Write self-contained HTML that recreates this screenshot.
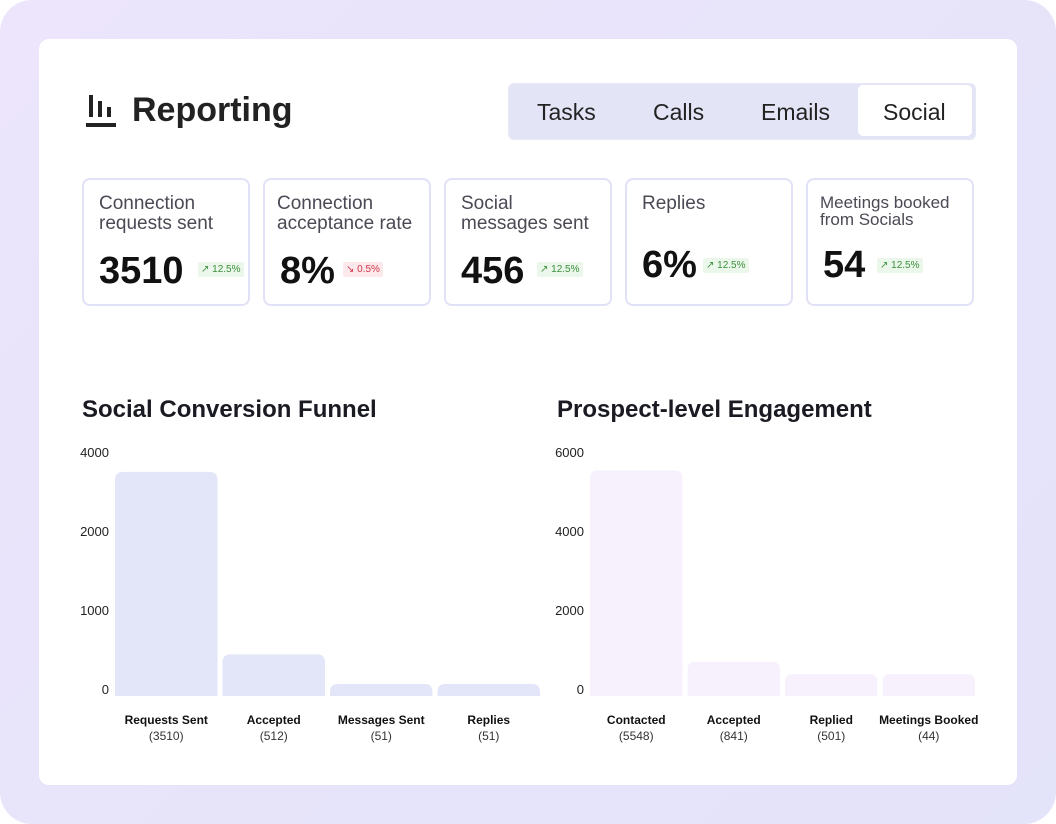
<!DOCTYPE html>
<html><head><meta charset="utf-8"><style>
body{margin:0;width:1056px;height:824px;background:#fff;font-family:"Liberation Sans",sans-serif;overflow:hidden}
#outer{position:absolute;left:0;top:0;width:1056px;height:824px;border-radius:32px;background:linear-gradient(135deg,#ece5fb,#e3e3fa)}
#card{position:absolute;left:39px;top:39px;width:978px;height:746px;background:#fff;border-radius:10px}
.abs{position:absolute}
.kpi{position:absolute;top:178px;width:164px;height:124px;border:2px solid #e1e2f7;border-radius:8px;background:#fff}
.kt{position:absolute;left:15px;top:14px;font-size:19px;line-height:20px;color:#4a4a55}
.kv{position:absolute;left:15px;font-size:38px;font-weight:bold;color:#111}
.badge{position:absolute;font-size:10px;padding:2px 3px;border-radius:2px}
.up{background:#eaf7ea;color:#3d8f3d}.dn{background:#fde9ec;color:#d0364a}
.tab{position:absolute;top:99px;font-size:23px;color:#222}
</style></head><body>
<div id="outer"></div>
<div id="card"></div>
<svg class="abs" style="left:86px;top:95px" width="32" height="32"><rect x="3" y="0" width="4" height="22" fill="#222"/><rect x="12" y="6" width="4" height="16" fill="#222"/><rect x="21" y="12" width="4" height="10" fill="#222"/><rect x="0" y="28" width="30" height="4" fill="#222"/></svg>
<div class="abs" style="left:132px;top:91px;font-size:34px;font-weight:bold;color:#222">Reporting</div>
<div class="abs" style="left:508px;top:83px;width:466px;height:55px;background:#e3e5f7;border-radius:6px;border:1px solid #e8e8f8"></div>
<div class="abs" style="left:858px;top:85px;width:114px;height:51px;background:#fff;border-radius:5px"></div>
<div class="tab" style="left:537px">Tasks</div>
<div class="tab" style="left:653px">Calls</div>
<div class="tab" style="left:761px">Emails</div>
<div class="tab" style="left:883px">Social</div>

<div class="kpi" style="left:82px"><div class="kt">Connection<br>requests sent</div><div class="kv" style="top:70px">3510</div><div class="badge up" style="left:114px;top:82px">↗ 12.5%</div></div>
<div class="kpi" style="left:263px"><div class="kt" style="left:12px">Connection<br>acceptance rate</div><div class="kv" style="top:70px">8%</div><div class="badge dn" style="left:78px;top:82px">↘ 0.5%</div></div>
<div class="kpi" style="left:444px"><div class="kt">Social<br>messages sent</div><div class="kv" style="top:70px">456</div><div class="badge up" style="left:91px;top:82px">↗ 12.5%</div></div>
<div class="kpi" style="left:625px"><div class="kt">Replies</div><div class="kv" style="top:64px">6%</div><div class="badge up" style="left:76px;top:78px">↗ 12.5%</div></div>
<div class="kpi" style="left:806px"><div class="kt" style="left:12px;font-size:17px;line-height:17px">Meetings booked<br>from Socials</div><div class="kv" style="top:64px">54</div><div class="badge up" style="left:69px;top:78px">↗ 12.5%</div></div>

<div class="abs" style="left:82px;top:396px;font-size:24px;font-weight:bold;color:#1a1a22">Social Conversion Funnel</div>
<div class="abs" style="left:557px;top:396px;font-size:24px;font-weight:bold;color:#1a1a22">Prospect-level Engagement</div>
<svg id="charts" class="abs" style="left:0;top:0" width="1056" height="824"></svg>
<script>
const funnelCats=["Requests Sent","Accepted","Messages Sent","Replies"];
const funnelVals=[3510,512,51,51];
const funnelTicks=[0,1000,2000,4000];
const engCats=["Contacted","Accepted","Replied","Meetings Booked"];
const engVals=[5548,841,501,44];
const engTicks=[0,2000,4000,6000];
const NS="http://www.w3.org/2000/svg";
const svg=document.getElementById('charts');
function mk(t,a){const e=document.createElementNS(NS,t);for(const k in a)e.setAttribute(k,a[k]);svg.appendChild(e);return e;}
function draw(cfg){
  const base=696,n=cfg.ticks.length;
  const lstep=(base-459)/(n-1), bstep=(base-452)/(n-1);
  function y(v){for(let i=0;i<n-1;i++){if(v<=cfg.ticks[i+1]||i==n-2){const f=(v-cfg.ticks[i])/(cfg.ticks[i+1]-cfg.ticks[i]);return base-bstep*(i+f);}}}
  cfg.ticks.forEach((t,i)=>{const e=mk('text',{x:cfg.tx,y:base-lstep*i-2,'text-anchor':'end','font-size':'13','fill':'#222'});e.textContent=t;
    
    });
  cfg.vals.forEach((v,i)=>{const x=cfg.x0+i*cfg.bw;let yt=Math.min(y(v),base-cfg.minH);
    const r=mk('path',{d:`M${x} ${base}V${yt+8}Q${x} ${yt} ${x+8} ${yt}H${x+cfg.bw-13}Q${x+cfg.bw-5} ${yt} ${x+cfg.bw-5} ${yt+8}V${base}Z`,fill:cfg.color});
    
    
    const cx=x+(cfg.bw-5)/2;
    const a=mk('text',{x:cx,y:724,'text-anchor':'middle','font-size':'12','font-weight':'bold','fill':'#111'});a.textContent=cfg.cats[i];
    
    
    const b=mk('text',{x:cx,y:740,'text-anchor':'middle','font-size':'12','fill':'#333'});b.textContent='('+v+')';
    
    });
}
draw({cats:funnelCats,vals:funnelVals,ticks:funnelTicks,tx:109,x0:115,bw:107.5,color:'#e3e5f8',minH:12});
draw({cats:engCats,vals:engVals,ticks:engTicks,tx:584,x0:590,bw:97.5,color:'#f7f0fd',minH:22});
</script>
</body></html>
